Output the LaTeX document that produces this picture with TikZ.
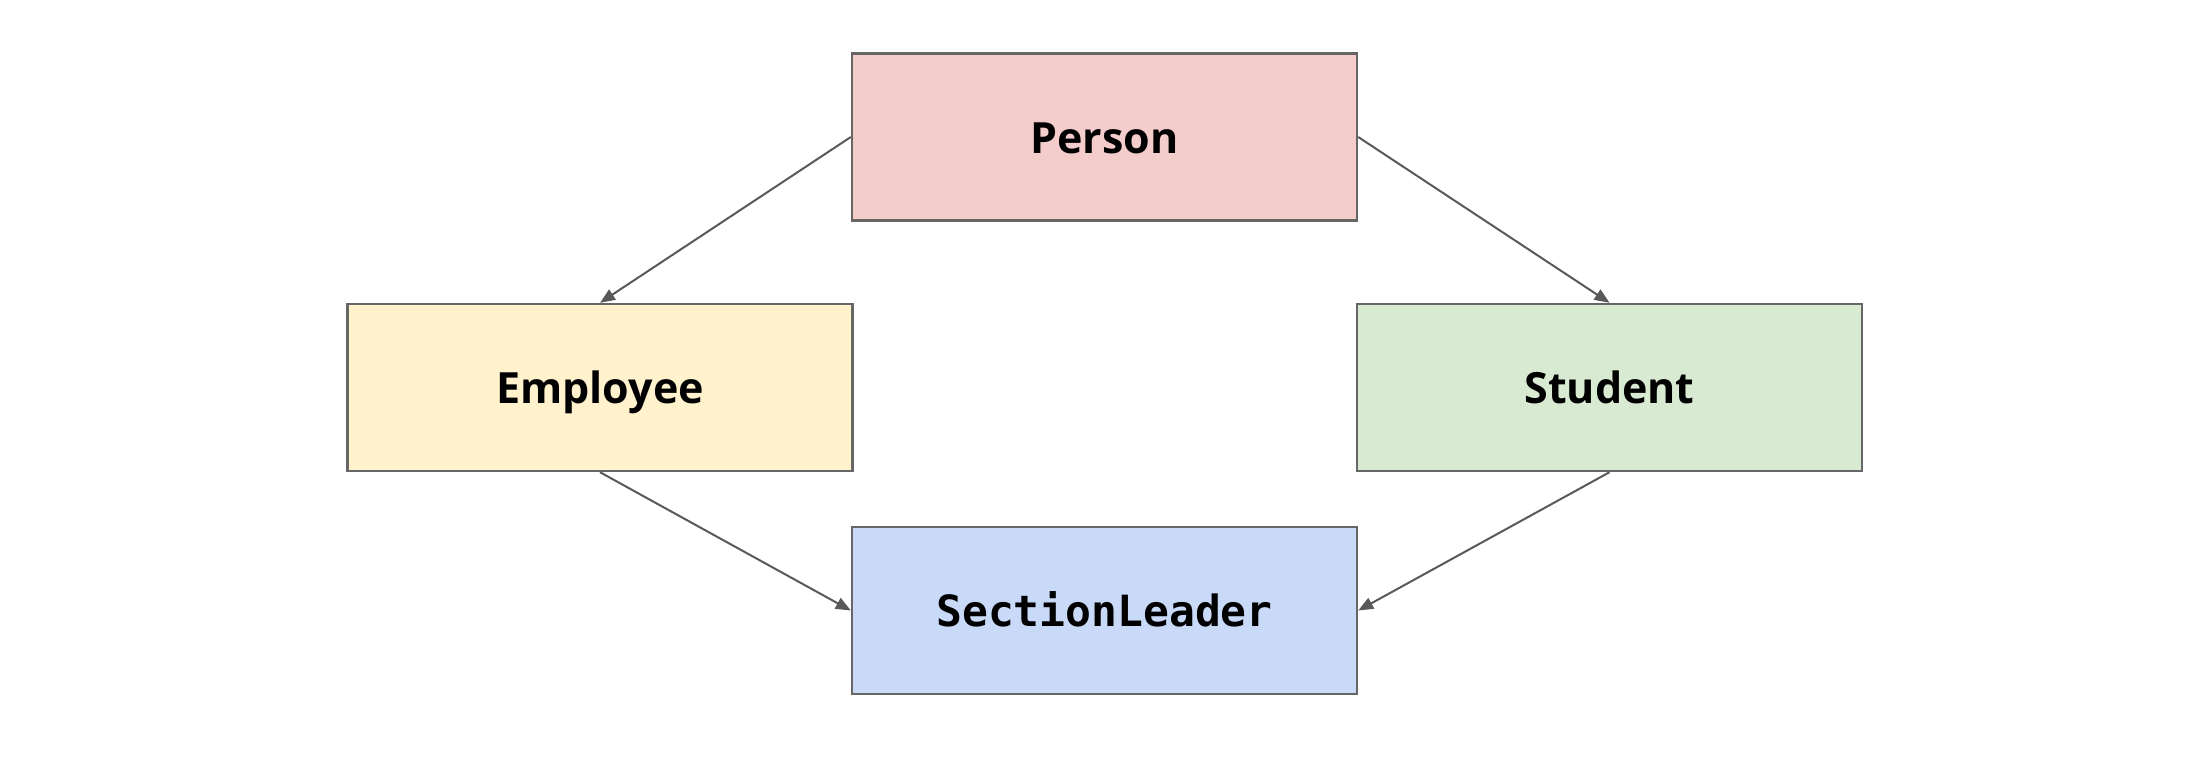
\documentclass[tikz,border=0pt]{standalone}
\usepackage{fontspec}
\setmainfont{Open Sans}
\newfontfamily\monobold{DejaVu Sans Mono}
\usetikzlibrary{arrows.meta}
\definecolor{pinkfill}{HTML}{F4CCCC}
\definecolor{yellowfill}{HTML}{FFF2CC}
\definecolor{greenfill}{HTML}{D9EAD3}
\definecolor{bluefill}{HTML}{C9DAF8}
\definecolor{edgegray}{HTML}{666666}
\definecolor{linegray}{HTML}{595959}
\tikzset{
  classbox/.style={draw=edgegray, line width=1.2pt, rectangle, minimum width=252.5pt, minimum height=83.5pt, inner sep=0pt, text height=20pt, text depth=4pt, font=\fontsize{21.5}{25}\selectfont\bfseries},
  inherit/.style={draw=linegray, line width=1pt, -{Triangle[length=7.5pt,width=6pt]}}
}
\begin{document}
\begin{tikzpicture}[x=0.5pt,y=-0.5pt]
\useasboundingbox (0,0) rectangle (2212,768);
\node[classbox, fill=pinkfill] (person) at (1104.5,137) {Person};
\node[classbox, fill=yellowfill] (employee) at (600,387.5) {Employee};
\node[classbox, fill=greenfill] (student) at (1609.5,387.5) {Student};
\node[classbox, fill=bluefill, font=\fontsize{21.5}{25}\selectfont\monobold\bfseries] (leader) at (1104.5,610.5) {SectionLeader};
\draw[inherit] (person.west) -- (employee.north);
\draw[inherit] (person.east) -- (student.north);
\draw[inherit] (employee.south) -- (leader.west);
\draw[inherit] (student.south) -- (leader.east);
\end{tikzpicture}
\end{document}
